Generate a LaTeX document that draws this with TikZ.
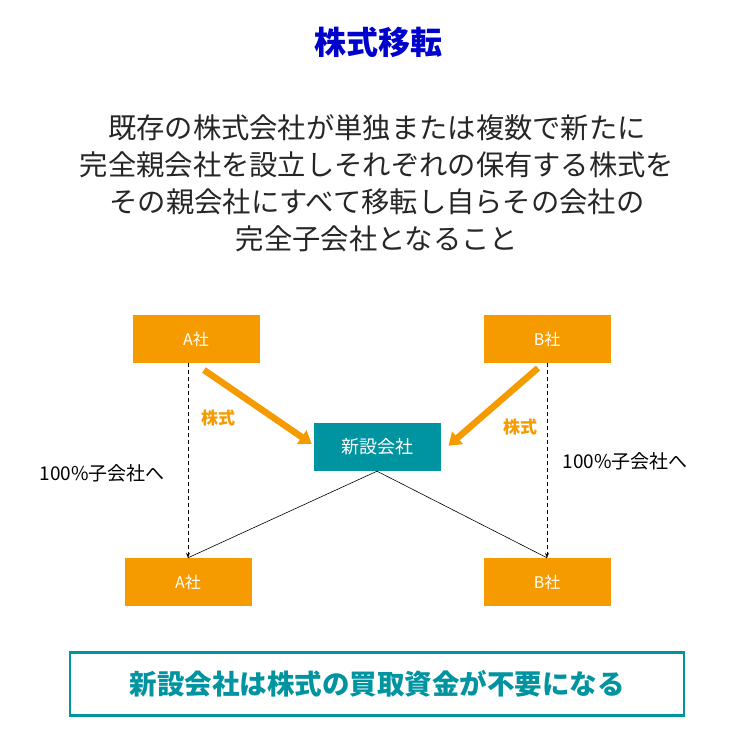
\documentclass[tikz,border=0pt]{standalone}
\usepackage{fontspec}
\setmainfont{Noto Sans CJK JP}
\usepackage{xcolor}
\usetikzlibrary{arrows.meta, positioning}
\definecolor{kabuorange}{RGB}{245,155,0}
\definecolor{kabuteal}{RGB}{0,147,160}
\definecolor{kabublue}{RGB}{0,0,205}

\begin{document}
\begin{tikzpicture}[x=1pt, y=-1pt,
      corpbox/.style={rectangle, fill=kabuorange, minimum width=127pt, minimum height=48pt, inner sep=0pt, text=white, font=\fontsize{16}{18}\selectfont},
      newbox/.style={corpbox, fill=kabuteal, font=\fontsize{18}{20}\selectfont},
      stockarr/.style={-{Triangle[length=12pt, width=16pt]}, line width=6.5pt, kabuorange, shorten >=2pt},
      subarr/.style={-{Stealth[length=5pt, width=4pt]}, dash pattern=on 4pt off 3pt, semithick},
      sublabel/.style={font=\fontsize{19}{22}\selectfont},
      stocklabel/.style={font=\fontsize{17}{20}\selectfont\bfseries, text=kabuorange}]
      \useasboundingbox (0,0) rectangle (755,755);
      \node[font=\fontsize{32}{36}\selectfont\bfseries, text=kabublue] (title) at (378,42) {株式移転};
      \node[align=center, font=\fontsize{28.3}{37}\selectfont, text=black!85] (defn) at (377,183)
        {既存の株式会社が単独または複数で新たに\\完全親会社を設立しそれぞれの保有する株式を\\その親会社にすべて移転し自らその会社の\\完全子会社となること};
      \node[corpbox] (atop) at (196,339) {A社};
      \node[corpbox] (btop) at (547,339) {B社};
      \node[newbox] (newco) at (377,447) {新設会社};
      \node[corpbox] (abot) at (188,582) {A社};
      \node[corpbox] (bbot) at (547,582) {B社};
      \draw[stockarr] (204,370) -- (newco.west |- 0,445);
      \draw[stockarr] (538,368) -- (447,447);
      \node[stocklabel] (astock) at (218,418) {株式};
      \node[stocklabel] (bstock) at (520,427) {株式};
      \draw[subarr] (atop.south -| abot.north) -- (abot.north);
      \draw[subarr] (btop.south) -- (bbot.north);
      \draw[semithick] (newco.south) -- (abot.north);
      \draw[semithick] (newco.south) -- (bbot.north);
      \node[sublabel, anchor=west] (asub) at (36,473) {100\%子会社へ};
      \node[sublabel, anchor=west] (bsub) at (559,461) {100\%子会社へ};
      \node[draw=kabuteal, line width=2.5pt, minimum width=614pt, minimum height=63pt, text=kabuteal,
        font=\fontsize{27.5}{30}\selectfont\bfseries] (result) at (377,684) {新設会社は株式の買取資金が不要になる};
    \end{tikzpicture}
\end{document}
